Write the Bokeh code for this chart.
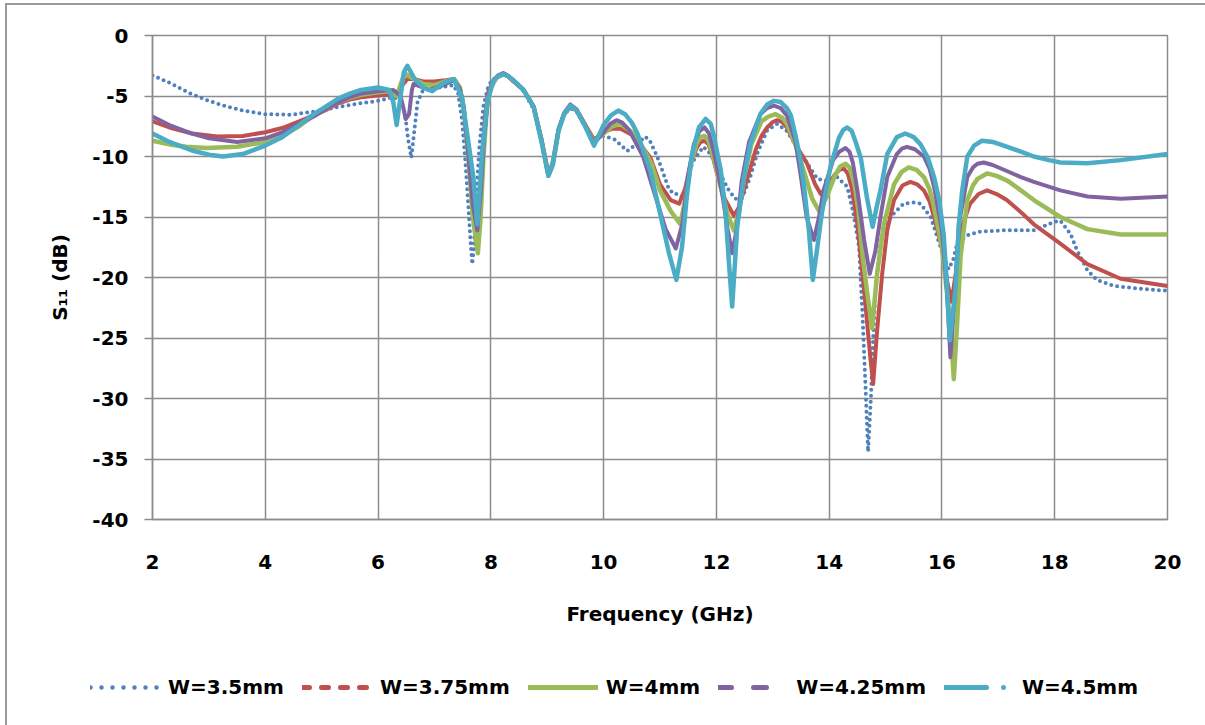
from bokeh.plotting import figure
from bokeh.models import FixedTicker, Legend, LegendItem, Range1d
from bokeh.embed import file_html
from bokeh.resources import INLINE

# ---------------- data ----------------
series_names = ["W=3.5mm", "W=3.75mm", "W=4mm", "W=4.25mm", "W=4.5mm"]
x_ticks = [2, 4, 6, 8, 10, 12, 14, 16, 18, 20]
y_ticks = [-40, -35, -30, -25, -20, -15, -10, -5, 0]

f_w350 = [2.0, 2.3, 2.67, 3.0, 3.26, 3.6, 4.0, 4.45, 4.86, 5.3, 5.69, 6.0, 6.27, 6.4, 6.48,
          6.53, 6.59, 6.64, 6.7, 6.79, 6.9, 7.1, 7.34, 7.42, 7.49, 7.55, 7.6, 7.64, 7.67,
          7.7, 7.74, 7.8, 7.87, 7.96, 8.05, 8.13, 8.22, 8.3, 8.4, 8.58, 8.76, 8.9, 9.0, 9.07, 9.2,
          9.3, 9.41, 9.52, 9.65, 9.83, 10.0, 10.2, 10.42, 10.6, 10.74, 10.83, 10.95, 11.06, 11.15,
          11.24, 11.33, 11.42, 11.5, 11.6, 11.77, 11.86, 12.0, 12.13, 12.22, 12.34, 12.46,
          12.6, 12.72, 12.9, 13.08, 13.25, 13.4, 13.6, 13.79, 13.96, 14.14, 14.32, 14.43,
          14.53, 14.59, 14.64, 14.69, 14.74, 14.78, 14.83, 14.9, 14.97, 15.06, 15.15,
          15.32, 15.5, 15.62, 15.8, 15.92, 16.03, 16.12, 16.2, 16.27, 16.45, 16.68, 17.1,
          17.63, 17.99, 18.1, 18.28, 18.4, 18.58, 18.75, 19.05, 19.46, 20.0]
s_w350 = [-3.3, -3.9, -4.8, -5.4, -5.8, -6.2, -6.5, -6.55, -6.3, -5.9, -5.6, -5.4, -5.1, -5.3, -6.5,
          -8.5, -10.1, -8.0, -5.5, -4.6, -4.4, -4.3, -4.1, -4.8, -7.0, -10.5, -14.0, -17.0, -18.9,
          -17.5, -13.5, -9.0, -5.8, -4.1, -3.6, -3.35, -3.2, -3.35, -3.7, -4.6, -6.1, -8.8, -11.2, -11.0, -7.8,
          -6.5, -6.0, -6.3, -7.4, -8.6, -8.3, -8.6, -9.55, -8.9, -8.35, -8.8, -10.0, -11.4, -12.6,
          -13.1, -13.1, -13.4, -11.4, -10.3, -9.2, -9.6, -10.6, -12.0, -12.8, -13.5, -13.4,
          -11.7, -9.8, -7.85, -7.3, -7.9, -9.0, -10.5, -11.85, -12.0, -11.7, -12.5, -14.7,
          -17.5, -23.0, -28.5, -34.4, -30.0, -25.0, -20.5, -17.5, -16.0, -15.2, -14.7,
          -13.9, -13.8, -13.9, -15.0, -16.7, -18.3, -19.3, -18.5, -17.2, -16.5, -16.2, -16.1,
          -16.1, -15.4, -15.3, -16.4, -17.8, -19.4, -20.2, -20.7, -20.9, -21.1]

f_w375 = [2.0, 2.3, 2.7, 3.15, 3.6, 4.0, 4.3, 4.6, 4.86, 5.1, 5.3, 5.5, 5.7, 6.0, 6.2, 6.3, 6.4,
          6.52, 6.65, 6.8, 7.0, 7.2, 7.35, 7.45, 7.52, 7.6, 7.68, 7.74, 7.78, 7.83, 7.9, 7.96,
          8.05, 8.13, 8.22, 8.3, 8.4, 8.58, 8.76, 8.9, 9.02, 9.1, 9.2, 9.3, 9.41, 9.52, 9.65,
          9.83, 10.0, 10.15, 10.3, 10.5, 10.6, 10.83, 11.0, 11.19, 11.34, 11.45, 11.55, 11.65,
          11.72, 11.79, 11.86, 11.93, 12.0, 12.15, 12.31, 12.4, 12.55, 12.7, 12.8, 12.9, 13.0,
          13.08, 13.17, 13.25, 13.4, 13.61, 13.75, 13.85, 13.95, 14.1, 14.18, 14.26, 14.33,
          14.4, 14.5, 14.62, 14.73, 14.78, 14.85, 14.94, 15.03, 15.15, 15.3, 15.44, 15.56,
          15.68, 15.78, 15.86, 16.0, 16.1, 16.17, 16.25, 16.33, 16.5, 16.65, 16.8, 16.97,
          17.15, 17.4, 17.63, 18.1, 18.58, 19.17, 20.0]
s_w375 = [-7.1, -7.6, -8.1, -8.35, -8.3, -8.0, -7.65, -7.1, -6.6, -6.1, -5.6, -5.3, -5.1, -4.95, -4.9, -4.9, -4.3,
          -3.6, -3.6, -3.8, -3.8, -3.7, -3.6, -4.3, -6.0, -9.5, -14.0, -17.3, -16.0, -11.0, -6.5, -4.6,
          -3.7, -3.35, -3.2, -3.35, -3.8, -4.5, -5.9, -8.6, -11.4, -10.5, -7.8, -6.5, -5.9, -6.2, -7.2,
          -8.6, -8.0, -7.7, -7.7, -8.2, -8.7, -10.1, -12.3, -13.6, -13.9, -12.6, -10.5, -9.3,
          -8.8, -8.7, -9.0, -9.9, -11.2, -13.5, -14.9, -14.2, -11.8, -9.4, -8.3, -7.6, -7.15,
          -7.0, -7.15, -7.6, -9.0, -10.6, -12.3, -13.1, -12.6, -11.5, -11.1, -11.0, -11.4,
          -12.6, -15.6, -21.1, -26.6, -28.8, -24.4, -19.7, -16.1, -13.6, -12.4, -12.1, -12.3,
          -12.8, -13.7, -15.0, -17.5, -20.5, -22.0, -19.5, -16.1, -13.9, -13.1, -12.8, -13.1,
          -13.6, -14.6, -15.6, -17.2, -18.9, -20.1, -20.7]

f_w400 = [2.0, 2.3, 2.6, 2.96, 3.5, 4.0, 4.3, 4.6, 4.86, 5.1, 5.3, 5.5, 5.7, 6.0, 6.2, 6.33, 6.47,
          6.6, 6.8, 7.0, 7.2, 7.35, 7.45, 7.52, 7.6, 7.68, 7.77, 7.82, 7.87, 7.93, 8.0, 8.1,
          8.22, 8.3, 8.4, 8.58, 8.76, 8.9, 9.02, 9.1, 9.2, 9.3, 9.41, 9.52, 9.65, 9.83, 10.0,
          10.15, 10.3, 10.5, 10.7, 10.85, 11.0, 11.19, 11.36, 11.45, 11.55, 11.65, 11.72, 11.79,
          11.86, 11.92, 12.05, 12.2, 12.31, 12.4, 12.5, 12.62, 12.8, 12.92, 13.05, 13.17, 13.25,
          13.4, 13.55, 13.7, 13.82, 13.95, 14.1, 14.2, 14.29, 14.36, 14.45, 14.52, 14.6, 14.67,
          14.76, 14.85, 14.97, 15.15, 15.28, 15.41, 15.55, 15.68, 15.78, 15.86, 16.0, 16.15,
          16.21, 16.27, 16.33, 16.45, 16.55, 16.63, 16.8, 16.97, 17.16, 17.4, 17.63, 18.1,
          18.58, 19.17, 20.0]
s_w400 = [-8.7, -9.0, -9.2, -9.3, -9.2, -8.8, -8.3, -7.5, -6.6, -6.0, -5.5, -5.15, -4.9, -4.7, -4.6, -5.0, -3.1,
          -3.5, -4.0, -4.1, -3.8, -3.6, -4.3, -6.0, -10.0, -15.0, -18.0, -15.0, -10.0, -6.0, -4.3, -3.5,
          -3.2, -3.35, -3.7, -4.5, -5.9, -8.7, -11.5, -10.6, -7.8, -6.5, -5.8, -6.2, -7.2, -8.8, -8.1,
          -7.5, -7.3, -8.0, -9.3, -10.6, -12.8, -14.5, -15.6, -13.5, -10.5, -8.9, -8.4, -8.3,
          -8.7, -9.6, -12.0, -14.8, -16.1, -14.5, -11.5, -9.0, -7.1, -6.7, -6.5, -6.8, -7.3,
          -9.0, -11.2, -13.5, -14.5, -13.4, -11.6, -10.8, -10.6, -10.9, -12.3, -14.5, -18.5, -21.1,
          -24.2, -19.7, -15.6, -12.3, -11.3, -10.9, -11.1, -11.7, -12.7, -14.2, -17.5, -23.8,
          -28.4, -23.8, -18.3, -13.6, -12.4, -11.85, -11.4, -11.6, -12.0, -12.8, -13.6, -15.0,
          -16.0, -16.45, -16.45]

f_w425 = [2.0, 2.3, 2.7, 3.0, 3.5, 4.0, 4.3, 4.6, 4.86, 5.1, 5.3, 5.5, 5.7, 6.0, 6.27, 6.4, 6.45,
          6.49, 6.55, 6.6, 6.63, 6.9, 7.1, 7.35, 7.45, 7.52, 7.6, 7.68, 7.76, 7.82, 7.88, 7.95,
          8.05, 8.13, 8.22, 8.3, 8.4, 8.58, 8.76, 8.9, 9.02, 9.1, 9.2, 9.3, 9.41, 9.52, 9.65,
          9.83, 10.0, 10.12, 10.23, 10.33, 10.45, 10.7, 10.9, 11.1, 11.28, 11.4, 11.5, 11.6,
          11.7, 11.79, 11.87, 11.95, 12.1, 12.2, 12.28, 12.36, 12.45, 12.58, 12.78, 12.9, 13.02,
          13.14, 13.25, 13.4, 13.49, 13.6, 13.73, 13.82, 13.9, 14.07, 14.18, 14.29, 14.36, 14.42,
          14.5, 14.62, 14.72, 14.82, 14.91, 15.03, 15.2, 15.29, 15.38, 15.52, 15.68, 15.78, 15.86,
          16.0, 16.09, 16.15, 16.22, 16.3, 16.45, 16.55, 16.63, 16.74, 16.9, 17.15, 17.4, 17.63,
          18.1, 18.58, 19.17, 20.0]
s_w425 = [-6.7, -7.4, -8.1, -8.5, -8.8, -8.5, -8.0, -7.3, -6.7, -6.0, -5.5, -5.1, -4.8, -4.6, -4.5, -5.0, -6.0,
          -6.9, -6.5, -4.5, -4.0, -4.5, -4.2, -3.7, -4.4, -6.0, -9.8, -14.0, -16.1, -13.0, -8.5, -5.0,
          -3.7, -3.3, -3.1, -3.3, -3.7, -4.5, -5.9, -8.7, -11.6, -10.6, -7.8, -6.4, -5.7, -6.1, -7.2,
          -8.9, -8.0, -7.3, -7.0, -7.2, -7.8, -10.0, -13.0, -16.0, -17.6, -15.5, -11.5, -9.0,
          -7.9, -7.6, -8.1, -9.5, -13.0, -16.0, -18.0, -16.0, -12.0, -8.8, -6.5, -6.0, -5.8,
          -6.0, -6.6, -8.7, -11.4, -15.0, -16.9, -15.0, -12.8, -10.3, -9.6, -9.3, -9.6, -10.5,
          -12.8, -16.9, -19.7, -17.8, -15.0, -11.7, -9.8, -9.35, -9.2, -9.4, -10.0, -11.0, -12.5,
          -16.1, -21.1, -26.6, -22.0, -15.6, -11.7, -10.9, -10.6, -10.5, -10.7, -11.2, -11.7, -12.1,
          -12.8, -13.3, -13.5, -13.3]

f_w450 = [2.0, 2.3, 2.7, 3.0, 3.25, 3.6, 4.0, 4.3, 4.6, 4.86, 5.1, 5.3, 5.5, 5.7, 6.0, 6.2, 6.27,
          6.33, 6.4, 6.46, 6.52, 6.65, 6.8, 6.96, 7.17, 7.34, 7.49, 7.58, 7.69, 7.76, 7.85, 7.94,
          8.05, 8.13, 8.22, 8.3, 8.4, 8.58, 8.76, 8.9, 9.02, 9.1, 9.2, 9.3, 9.41, 9.52, 9.65,
          9.83, 10.0, 10.13, 10.26, 10.38, 10.5, 10.6, 10.83, 11.0, 11.16, 11.29, 11.39, 11.48,
          11.57, 11.69, 11.81, 11.9, 11.96, 12.08, 12.16, 12.22, 12.28, 12.37, 12.49, 12.6, 12.78,
          12.9, 13.02, 13.14, 13.25, 13.32, 13.4, 13.48, 13.55, 13.64, 13.71, 13.79, 13.87, 14.02,
          14.17, 14.25, 14.32, 14.4, 14.47, 14.56, 14.67, 14.77, 14.85, 14.91, 15.03, 15.2, 15.35,
          15.5, 15.62, 15.75, 15.86, 15.95, 16.03, 16.08, 16.14, 16.24, 16.3, 16.36, 16.45, 16.57,
          16.71, 16.9, 17.16, 17.4, 17.63, 17.9, 18.1, 18.58, 19.17, 20.0]
s_w450 = [-8.1, -8.8, -9.5, -9.85, -10.0, -9.8, -9.1, -8.4, -7.4, -6.5, -5.8, -5.2, -4.8, -4.5, -4.3, -4.5, -5.5,
          -7.4, -5.0, -3.0, -2.5, -3.6, -4.3, -4.6, -3.9, -3.6, -5.1, -8.1, -11.7, -15.6, -9.5, -5.4,
          -3.7, -3.35, -3.2, -3.35, -3.7, -4.5, -5.9, -8.8, -11.6, -10.7, -7.9, -6.5, -5.8, -6.2, -7.3,
          -9.1, -7.4, -6.6, -6.2, -6.5, -7.2, -8.1, -11.2, -14.7, -18.0, -20.2, -17.5, -13.1,
          -9.8, -7.6, -6.9, -7.3, -8.4, -11.2, -14.5, -18.6, -22.4, -15.8, -11.7, -9.0, -6.5,
          -5.7, -5.4, -5.5, -6.0, -6.6, -8.2, -10.0, -12.3, -16.1, -20.2, -17.5, -14.7, -10.9,
          -8.5, -7.8, -7.6, -7.9, -8.8, -10.1, -13.4, -15.8, -14.0, -12.8, -9.8, -8.4, -8.1,
          -8.4, -9.0, -10.1, -11.7, -13.6, -16.4, -20.0, -25.2, -21.0, -15.6, -12.8, -10.0, -9.1,
          -8.7, -8.8, -9.2, -9.6, -10.0, -10.3, -10.5, -10.55, -10.3, -9.8]

# ---------------- main figure ----------------
FONT = "DejaVu Sans"
GRID = "#8c8c8c"
FRAME = "#9a9a9a"

p = figure(frame_width=1015, frame_height=484,
           x_range=Range1d(2, 20), y_range=Range1d(-40, 0),
           output_backend="svg", toolbar_location=None,
           min_border_left=145, min_border_top=30,
           min_border_right=42, min_border_bottom=130,
           background_fill_color="white", border_fill_color="white")
p.margin = (3, 0, 0, 5)
p.styles = {"border-left": f"2px solid {FRAME}", "border-top": f"2px solid {FRAME}"}

p.outline_line_color = GRID
p.outline_line_width = 1.5

p.xaxis.ticker = FixedTicker(ticks=x_ticks)
p.yaxis.ticker = FixedTicker(ticks=y_ticks)
p.yaxis.major_label_overrides = {t: str(t) for t in y_ticks}
for g in (p.xgrid, p.ygrid):
    g.grid_line_color = GRID
    g.grid_line_width = 1.5

for ax in (p.xaxis, p.yaxis):
    ax.axis_line_color = GRID
    ax.axis_line_width = 1.5
    ax.minor_tick_line_color = None
    ax.major_label_text_font = FONT
    ax.major_label_text_font_style = "bold"
    ax.major_label_text_font_size = "20px"
    ax.major_label_text_color = "black"
    ax.axis_label_text_font = FONT
    ax.axis_label_text_font_style = "bold"
    ax.axis_label_text_font_size = "20px"
    ax.axis_label_text_color = "black"

p.xaxis.major_tick_line_color = None
p.xaxis.major_tick_out = 0
p.xaxis.major_tick_in = 0
p.xaxis.major_label_standoff = 35
p.xaxis.axis_label = "Frequency (GHz)"
p.xaxis.axis_label_standoff = 30

p.yaxis.major_tick_line_color = GRID
p.yaxis.major_tick_line_width = 1.5
p.yaxis.major_tick_out = 8
p.yaxis.major_tick_in = 0
p.yaxis.major_label_standoff = 16
p.yaxis.axis_label = "S\u2081\u2081 (dB)"
p.yaxis.axis_label_standoff = 17

colors = ["#4F81BD", "#C0504D", "#9BBB59", "#8064A2", "#4BACC6"]

p.line(f_w350, s_w350, line_color=colors[0], line_width=4, line_dash="0 6", line_cap="round")
p.line(f_w375, s_w375, line_color=colors[1], line_width=4, line_join="round", line_cap="round")
p.line(f_w400, s_w400, line_color=colors[2], line_width=4.5, line_join="round", line_cap="round")
p.line(f_w425, s_w425, line_color=colors[3], line_width=4, line_join="round", line_cap="round")
p.line(f_w450, s_w450, line_color=colors[4], line_width=4.5, line_join="round", line_cap="round")

# ---------------- legend strip below the chart ----------------
pl = figure(width=1202, height=76, output_backend="svg", toolbar_location=None,
            x_range=Range1d(0, 1), y_range=Range1d(0, 1),
            min_border=0, x_axis_location=None, y_axis_location=None,
            background_fill_color="white", border_fill_color="white")
pl.margin = (0, 0, 0, 5)
pl.styles = {"border-left": f"2px solid {FRAME}"}
pl.outline_line_color = None
pl.grid.visible = False

legend_styles = [("0 11", 4.5), ("7 12", 5), ("solid", 5), ("13 22", 5), ("42 17 0 20", 5)]
items = []
for name, col, (dash, w) in zip(series_names, colors, legend_styles):
    # proxy line lies outside the strip's visible range; only its legend sample shows
    r = pl.line([-10, -9], [-10, -9], line_color=col, line_width=w, line_dash=dash, line_cap="round")
    items.append(LegendItem(label=name, renderers=[r]))

legend = Legend(items=items, orientation="horizontal", location=(83, 26),
                glyph_width=70, glyph_height=20, label_standoff=8, spacing=18,
                padding=0, margin=0,
                label_text_font=FONT, label_text_font_style="bold",
                label_text_font_size="20px", label_text_color="black",
                border_line_color=None, background_fill_alpha=0)
pl.add_layout(legend)

open("out.html", "w").write(file_html([p, pl], INLINE))
